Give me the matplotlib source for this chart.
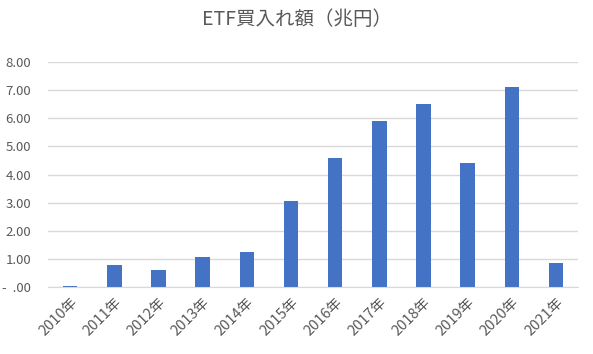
import matplotlib

matplotlib.use("Agg")
import matplotlib.pyplot as plt
from matplotlib.ticker import FuncFormatter

plt.rcParams["font.family"] = ["Noto Sans CJK JP", "DejaVu Sans"]

YEARS = ["2010年", "2011年", "2012年", "2013年", "2014年", "2015年",
         "2016年", "2017年", "2018年", "2019年", "2020年", "2021年"]
PURCHASES = [0.03, 0.78, 0.60, 1.07, 1.25, 3.06, 4.60, 5.90, 6.50, 4.40, 7.10, 0.86]
TITLE = "ETF買入れ額（兆円）"

BAR = "#4472C4"
TEXT = "#595959"
GRID = "#D9D9D9"


def fmt(value, _pos):
    if abs(value) < 1e-9:
        return "-  .00"
    return f"{value:.2f}"


fig = plt.figure(figsize=(5.93, 3.54), dpi=100)
ax = fig.add_axes([0.081, 0.189, 0.894, 0.636])
x = range(len(YEARS))
ax.bar(x, PURCHASES, width=0.33, color=BAR, zorder=2)
ax.set_xlim(-0.5, len(YEARS) - 0.5)
ax.set_ylim(0, 8)
ax.set_yticks([0, 1, 2, 3, 4, 5, 6, 7, 8])
ax.yaxis.set_major_formatter(FuncFormatter(fmt))
ax.set_xticks(list(x))
ax.set_xticklabels(YEARS, rotation=45, ha="right", rotation_mode="anchor", fontsize=10.5)
ax.grid(axis="y", color=GRID, linewidth=1, zorder=0)
for side in ("top", "right", "left"):
    ax.spines[side].set_visible(False)
ax.spines["bottom"].set_color(GRID)
ax.tick_params(axis="both", length=0, colors=TEXT)
ax.tick_params(axis="y", pad=12, labelsize=9.5)
ax.tick_params(axis="x", pad=6)
fig.text(0.5, 0.945, TITLE, ha="center", va="center", fontsize=14, color=TEXT)
fig.savefig("out.png", dpi=100, facecolor="white")
